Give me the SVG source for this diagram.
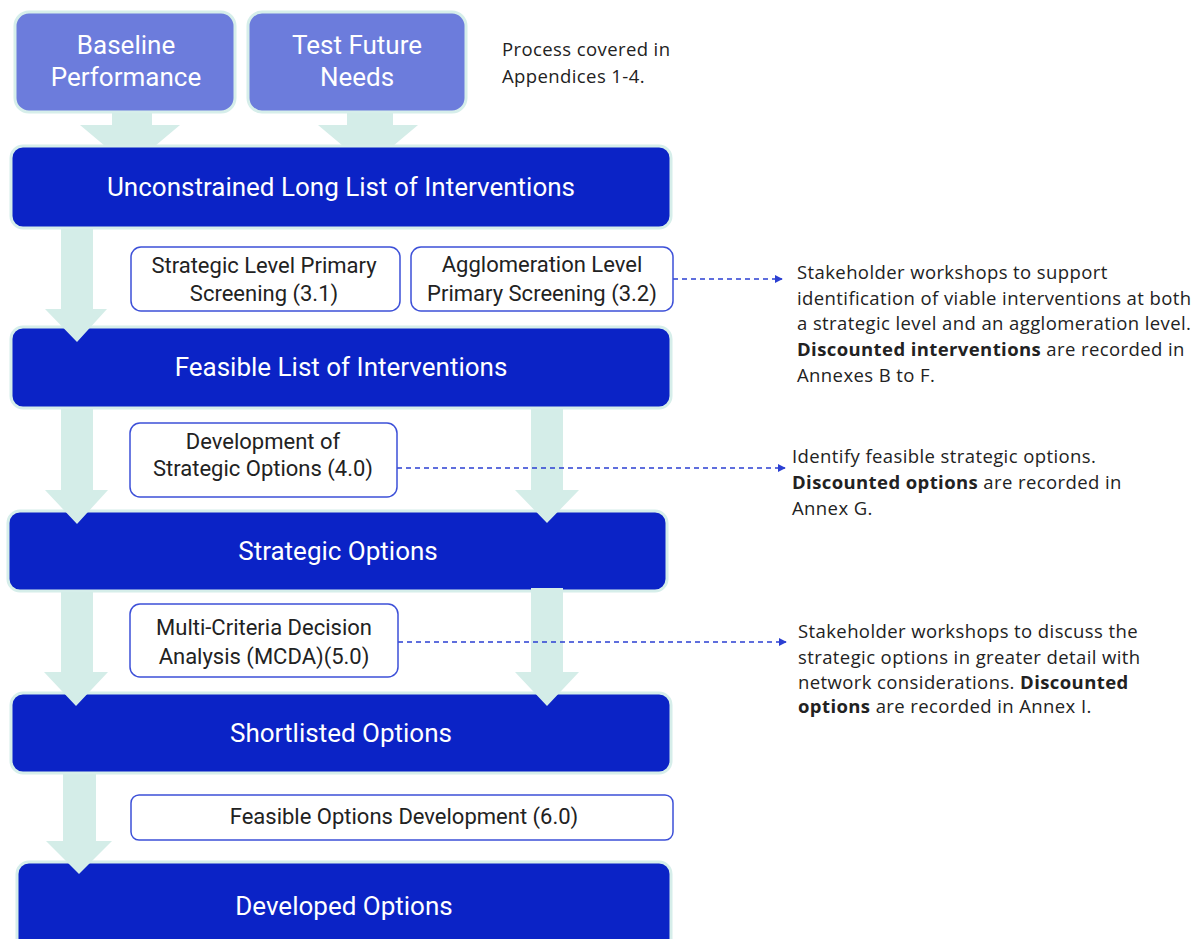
<svg xmlns="http://www.w3.org/2000/svg" width="1200" height="939" viewBox="0 0 1200 939">
<defs>
<style>
.top{fill:#6c7cdc;stroke:#d6eeea;stroke-width:3}
.main{fill:#0b23c6;stroke:#d6eeea;stroke-width:3}
.step{fill:#ffffff;stroke:#3d50d8;stroke-width:1.5}
.ar{fill:#d4ede8}
.wt{font-family:Roboto,"Liberation Sans",sans-serif;fill:#ffffff;text-anchor:middle;font-size:26px}
.st{font-family:Roboto,"Liberation Sans",sans-serif;fill:#222222;text-anchor:middle;font-size:22px}
.nt{font-family:"Open Sans","Liberation Sans",sans-serif;fill:#222222;font-size:18.5px;letter-spacing:0.4px}
.b{font-weight:bold}
.dash{stroke:#2b3fd2;stroke-width:1.5;stroke-dasharray:5 4;fill:none}
</style>
<marker id="ah" viewBox="0 0 10 10" refX="9" refY="5" markerWidth="8" markerHeight="8" markerUnits="userSpaceOnUse" orient="auto">
<path d="M0,0 L10,5 L0,10 z" fill="#2b3fd2"/>
</marker>
</defs>
<rect width="1200" height="939" fill="#ffffff"/>

<g id="baseline">
<rect class="top" x="15" y="12" width="220" height="100" rx="14"/>
<text class="wt" x="126" y="54" font-size="27">Baseline</text>
<text class="wt" x="126" y="86" font-size="27">Performance</text>
</g>
<g id="future">
<rect class="top" x="248" y="12" width="218" height="100" rx="14"/>
<text class="wt" x="357" y="54" font-size="27">Test Future</text>
<text class="wt" x="357" y="86" font-size="27">Needs</text>
</g>
<g id="note-appendices">
<text class="nt" x="502" y="56">Process covered in</text>
<text class="nt" x="502" y="83">Appendices 1-4.</text>
</g>

<g id="longlist">
<rect class="main" x="11" y="146" width="660" height="82" rx="12"/>
<text class="wt" x="341" y="196">Unconstrained Long List of Interventions</text>
</g>
<g id="feasible">
<rect class="main" x="11" y="327" width="660" height="81" rx="12"/>
<text class="wt" x="341" y="376">Feasible List of Interventions</text>
</g>
<g id="strategic">
<rect class="main" x="8" y="511" width="659" height="80" rx="12"/>
<text class="wt" x="338" y="560">Strategic Options</text>
</g>
<g id="shortlisted">
<rect class="main" x="11" y="693" width="660" height="80" rx="12"/>
<text class="wt" x="341" y="742">Shortlisted Options</text>
</g>
<g id="developed">
<rect class="main" x="17" y="862" width="654" height="90" rx="12"/>
<text class="wt" x="344" y="915">Developed Options</text>
</g>

<g id="connectors">
<path class="ar" d="M112,113 H152 V125 H180 L155,146 H105 L80,125 H112 Z"/>
<path class="ar" d="M347,113 H393 V125 H418 L393,146 H343 L318,125 H347 Z"/>
<path class="ar" d="M61,229 H93 V309 H107 L77,342 L45,309 H61 Z"/>
<path class="ar" d="M61,409 H93 V490 H108 L77,524 L45,490 H61 Z"/>
<path class="ar" d="M531,409 H563 V490 H579 L547,523 L515,490 H531 Z"/>
<path class="ar" d="M61,592 H93 V672 H108 L76,706 L44,672 H61 Z"/>
<path class="ar" d="M531,588 H563 V672 H579 L547,706 L515,672 H531 Z"/>
<path class="ar" d="M63,774 H96 V841 H112 L79,874 L46,841 H63 Z"/>
<path class="dash" d="M673,279 H782" marker-end="url(#ah)"/>
<path class="dash" d="M397,468 H785" marker-end="url(#ah)"/>
<path class="dash" d="M398,642 H786" marker-end="url(#ah)"/>
</g>

<g id="screen-strategic">
<rect class="step" x="131" y="247" width="269" height="64" rx="10"/>
<text class="st" x="264" y="273">Strategic Level Primary</text>
<text class="st" x="264" y="301">Screening (3.1)</text>
</g>
<g id="screen-agglo">
<rect class="step" x="411" y="247" width="262" height="64" rx="10"/>
<text class="st" x="542" y="272">Agglomeration Level</text>
<text class="st" x="542" y="301">Primary Screening (3.2)</text>
</g>
<g id="dev-strategic">
<rect class="step" x="130" y="423" width="267" height="74" rx="10"/>
<text class="st" x="263" y="449">Development of</text>
<text class="st" x="263" y="476">Strategic Options (4.0)</text>
</g>
<g id="mcda">
<rect class="step" x="130" y="604" width="268" height="73" rx="10"/>
<text class="st" x="264" y="635">Multi-Criteria Decision</text>
<text class="st" x="264" y="664">Analysis (MCDA)(5.0)</text>
</g>
<g id="feasible-dev">
<rect class="step" x="131" y="795" width="542" height="45" rx="8"/>
<text class="st" x="404" y="824">Feasible Options Development (6.0)</text>
</g>

<g id="note-screening">
<text class="nt" x="797" y="279">Stakeholder workshops to support</text>
<text class="nt" x="797" y="305">identification of viable interventions at both</text>
<text class="nt" x="797" y="330">a strategic level and an agglomeration level.</text>
<text class="nt" x="797" y="356"><tspan class="b">Discounted interventions</tspan> are recorded in</text>
<text class="nt" x="797" y="382">Annexes B to F.</text>
</g>
<g id="note-options">
<text class="nt" x="792" y="463">Identify feasible strategic options.</text>
<text class="nt" x="792" y="489"><tspan class="b">Discounted options</tspan> are recorded in</text>
<text class="nt" x="792" y="515">Annex G.</text>
</g>
<g id="note-mcda">
<text class="nt" x="798" y="638">Stakeholder workshops to discuss the</text>
<text class="nt" x="798" y="664">strategic options in greater detail with</text>
<text class="nt" x="798" y="689">network considerations. <tspan class="b">Discounted</tspan></text>
<text class="nt" x="798" y="713"><tspan class="b">options</tspan> are recorded in Annex I.</text>
</g>
</svg>
